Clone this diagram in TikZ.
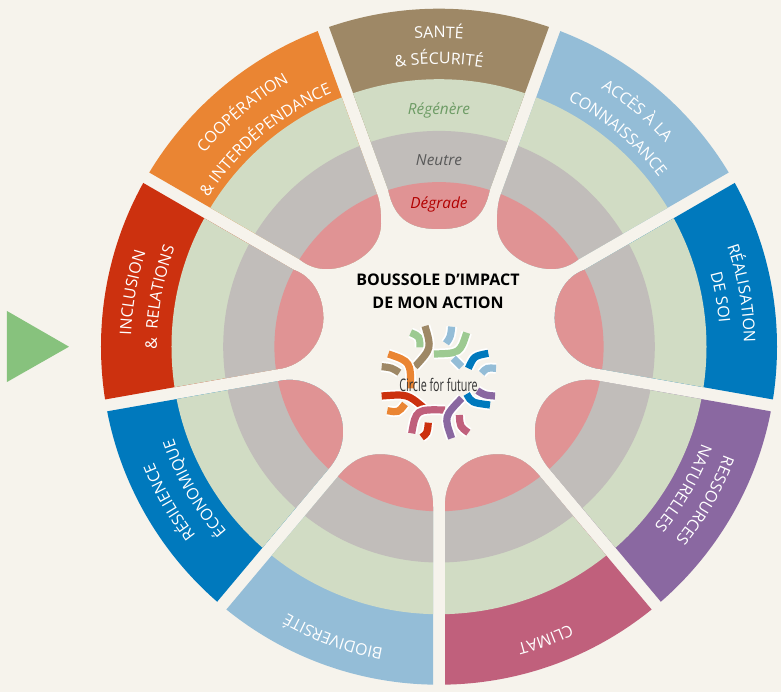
\documentclass[tikz,border=0pt]{standalone}
\usepackage{fontspec}
\setmainfont{Open Sans}
\usetikzlibrary{decorations.text}
\definecolor{ColPaper}{HTML}{F6F3EC}
\definecolor{ColSante}{HTML}{9E8866}
\definecolor{ColAcces}{HTML}{94BDD7}
\definecolor{ColSoi}{HTML}{0079BD}
\definecolor{ColNature}{HTML}{8A68A1}
\definecolor{ColClimat}{HTML}{C0607C}
\definecolor{ColInclusion}{HTML}{CC310F}
\definecolor{ColCoop}{HTML}{EA8533}
\definecolor{ColRegen}{HTML}{D1DCC4}
\definecolor{ColNeutre}{HTML}{C1BDBA}
\definecolor{ColDegrade}{HTML}{E09394}
\definecolor{ColArrow}{HTML}{87C27D}
\tikzstyle{RingText}=[font=\fontsize{11.5}{14}\selectfont\itshape,inner sep=0pt]
\tikzstyle{TitleText}=[font=\fontsize{12}{17.6}\selectfont\bfseries,align=center,inner sep=0pt]
\tikzstyle{LogoText}=[font=\fontsize{13}{15}\selectfont,text=black!80,xscale=.62,transform shape,inner sep=0pt]
\newcommand{\LabelFont}{\fontsize{12}{14}\selectfont\color{white}}
% one sector: its colour, then the rings, cut out by the given outline
\newcommand{\Sector}[3]{
  \begin{scope}[xscale=#1]
    \clip #3 -- cycle;
    \fill[#2] (0,0) circle[radius=338];
    \fill[ColRegen] (0,0) circle[radius=267.5];
    \fill[ColNeutre] (0,0) circle[radius=215.8];
    \fill[ColDegrade] (0,0) circle[radius=164.6];
  \end{scope}}
\newcommand{\ArcLabel}[3]{
  \path[decorate,decoration={text along path,text align=center,text={|\LabelFont|#3}}]
    ({#1+38}:#2) arc[start angle=#1+38,end angle=#1-38,radius=#2];}
\newcommand{\LogoArc}[4]{
  \draw[white,line width=8pt] (#2) .. controls (#3) .. (#4);
  \draw[#1,line width=5.4pt] (#2) .. controls (#3) .. (#4);}
\newcommand{\OutlineCoop}{(149.14:400) -- (-139.8,87.6) .. controls (-130,80) and (-121,77.7) .. (-112.3,77.7)
  .. controls (-88,77.7) and (-58,96) .. (-58,123.4) .. controls (-58,135) and (-59,145) .. (-62,152.6) -- (110.86:400)}
\newcommand{\OutlineInclusion}{(150.86:400) -- (-145.5,76.9) .. controls (-126,70) and (-115.7,50) .. (-115.7,28.4)
  .. controls (-115.7,5) and (-135,-20) .. (-163.1,-22.6) -- (189.14:400)}
\newcommand{\OutlineResilience}{(190.86:400) -- (-161,-34.5) .. controls (-135,-28) and (-96,-45) .. (-96,-85.3)
  .. controls (-96,-100) and (-102,-112) .. (-110.4,-122.1) -- (229.14:400)}
\newcommand{\OutlineBio}{(230.86:400) -- (-101.1,-130) .. controls (-88,-114) and (-75,-107.6) .. (-59,-107.6)
  .. controls (-30,-107.6) and (-6,-125) .. (-6,-160) -- (269.14:400)}
\begin{document}
\begin{tikzpicture}[x=.75pt,y=.75pt]
  \fill[ColPaper] (-439,-345.3) rectangle (342,346.7);
  \useasboundingbox (-439,-345.3) rectangle (342,346.7);
  \fill[ColArrow] (-432,35.7) -- (-370,0) -- (-432,-35.3) -- cycle;
  \Sector{1}{ColSante}{(109.14:400) -- (-50.7,156.7) .. controls (-44,124) and (-24,117.7) .. (0,117.7)
    .. controls (24,117.7) and (44,124) .. (50.7,156.7) -- (70.86:400)}
  \Sector{1}{ColCoop}{\OutlineCoop}
  \Sector{1}{ColInclusion}{\OutlineInclusion}
  \Sector{1}{ColSoi}{\OutlineResilience}
  \Sector{1}{ColAcces}{\OutlineBio}
  \Sector{-1}{ColAcces}{\OutlineCoop}
  \Sector{-1}{ColSoi}{\OutlineInclusion}
  \Sector{-1}{ColNature}{\OutlineResilience}
  \Sector{-1}{ColClimat}{\OutlineBio}
  \ArcLabel{90}{308.7}{SANTÉ}
  \ArcLabel{90}{282.7}{{\&} SÉCURITÉ}
  \ArcLabel{50}{305}{ACCÈS À LA}
  \ArcLabel{50}{278}{CONNAISSANCE}
  \ArcLabel{10}{305}{RÉALISATION}
  \ArcLabel{10}{281}{DE SOI}
  \ArcLabel{-30}{305}{RESSOURCES}
  \ArcLabel{-30}{280}{NATURELLES}
  \ArcLabel{-70}{307}{CLIMAT}
  \ArcLabel{250}{307}{BIODIVERSITÉ}
  \ArcLabel{210}{308}{RÉSILIENCE}
  \ArcLabel{210}{281}{ÉCONOMIQUE}
  \ArcLabel{170}{308}{INCLUSION}
  \ArcLabel{170}{282}{{\&}{\ }{\ }RELATIONS}
  \ArcLabel{130}{304}{COOPÉRATION}
  \ArcLabel{130}{275}{{\&} INTERDÉPENDANCE}
  \node[RingText,text=ColArrow!80!black](regenere)at(0,236.7){Régénère};
  \node[RingText,text=black!65](neutre)at(0,186.7){Neutre};
  \node[RingText,text=red!70!black](degrade)at(0,142.7){Dégrade};
  \node[TitleText](title)at(-1,55.5){BOUSSOLE D’IMPACT\\DE MON ACTION};
  % logo, in the units of a 3x crop
  \begin{scope}[shift={(-69,26.7)},xscale=1/3,yscale=-1/3]
    \LogoArc{ColRegen!30!ColArrow}{122,38}{150,50}{150,82}
    \LogoArc{ColSante}{165,18}{185,85}{135,140}
    \LogoArc{ColAcces}{245,20}{242,50}{228,70}
    \LogoArc{ColRegen!30!ColArrow}{290,38}{270,100}{192,102}
    \LogoArc{ColAcces}{250,115}{262,125}{275,140}
    \LogoArc{ColAcces}{378,145}{350,143}{335,160}
    \LogoArc{ColSoi}{355,100}{312,108}{295,145}
    \LogoArc{ColSante}{35,140}{65,143}{88,158}
    \LogoArc{ColCoop}{55,102}{122,125}{122,205}
    \LogoArc{ColCoop}{52,272}{85,278}{105,252}
    \LogoArc{ColInclusion}{35,228}{112,222}{160,262}
    \LogoArc{ColInclusion}{155,352}{172,340}{175,308}
    \LogoArc{ColClimat}{125,340}{138,268}{225,270}
    \LogoArc{ColClimat}{295,338}{270,320}{268,285}
    \LogoArc{ColNature}{245,355}{222,290}{275,235}
    \LogoArc{ColNature}{375,228}{345,226}{322,212}
    \LogoArc{ColSoi}{360,255}{305,248}{290,222}
  \end{scope}
  \node[LogoText](logo)at(-.5,-38.5){Circle for future};
\end{tikzpicture}
\end{document}
